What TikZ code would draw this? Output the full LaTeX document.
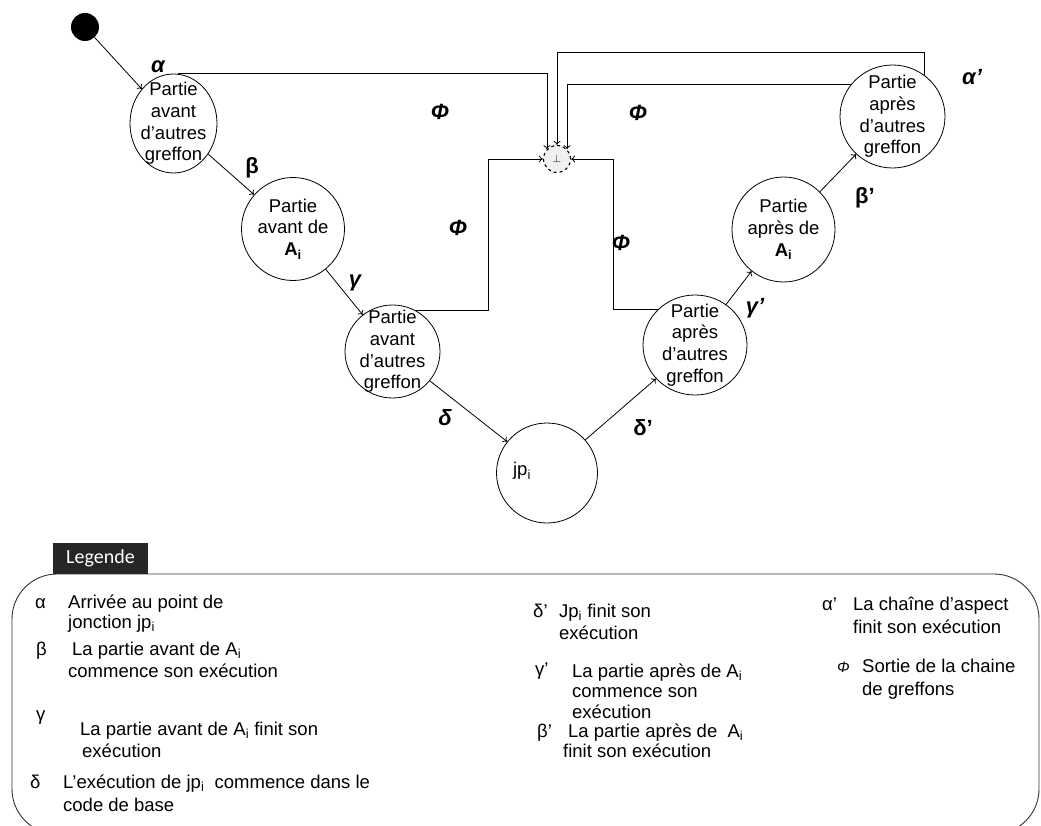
\documentclass[tikz,border=0pt]{standalone}
\usepackage{fontspec}
\setmainfont{Liberation Sans}
\newfontfamily\carlito{Carlito}
\usetikzlibrary{shapes.geometric,arrows.meta}
\begin{document}
\begin{tikzpicture}[x=1pt,y=-1pt,
  st/.style={ellipse, draw, line width=0.8pt, inner sep=0pt, fill=white},
  ntext/.style={align=center, font=\fontsize{18.5}{21.7}\selectfont, inner sep=0pt},
  glab/.style={font=\fontsize{22}{26}\selectfont\bfseries\itshape, inner sep=0pt},
  glabu/.style={font=\fontsize{22}{26}\selectfont\bfseries, inner sep=0pt},
  conn/.style={-{To[length=4pt,width=7pt]}, line width=0.8pt},
  leg/.style={anchor=base west, font=\fontsize{18.5}{22}\selectfont, inner sep=0pt}]
\useasboundingbox (0,0) rectangle (1041,826);

% nodes
\node[circle, fill=black, minimum size=28pt, inner sep=0pt] (s) at (85,27) {};
\node[st, minimum width=87pt, minimum height=99pt] (A) at (173.5,123.5) {};
\node[ntext] (At) at (A) {Partie\\avant\\d’autres\\greffon};
\node[st, minimum width=103pt, minimum height=103pt] (B) at (293,229) {};
\node[ntext] (Bt) at (B) {Partie\\avant de\\\textbf{A\textsubscript{i}}};
\node[st, minimum width=95pt, minimum height=93pt] (C) at (392.5,351.5) {};
\node[ntext] (Ct) at (C) {Partie\\avant\\d’autres\\greffon};
\node[st, minimum width=101pt, minimum height=100pt] (J) at (547,473) {};
\node[ntext] (Jt) at (522,471) {jp\textsubscript{i}};
\node[st, minimum width=104pt, minimum height=100pt] (D) at (695,345) {};
\node[ntext] (Dt) at (D) {Partie\\après\\d’autres\\greffon};
\node[st, minimum width=103pt, minimum height=105pt] (E) at (783.5,229.5) {};
\node[ntext] (Et) at (E) {Partie\\après de\\\textbf{A\textsubscript{i}}};
\node[st, minimum width=105pt, minimum height=103pt] (F) at (892.5,116.5) {};
\node[ntext] (Ft) at (F) {Partie\\après\\d’autres\\greffon};
\node[circle, draw, dashed, line width=1.1pt, fill=black!6, minimum size=27pt, inner sep=0pt,
  font=\fontsize{11}{12}\selectfont] (bot) at (557,159) {$\perp$};

\coordinate (topy) at (0,52);
\coordinate (lx) at (488,0);
\coordinate (rx) at (613,0);

% chain connectors
\draw[conn] (s) -- (A);
\draw[conn] (A) -- (B);
\draw[conn] (B) -- (C);
\draw[conn] (C) -- (J);
\draw[conn] (J) -- (D);
\draw[conn] (D) -- (E);
\draw[conn] (E) -- (F);

% exits to bottom
\draw[conn] (A.85) -| (bot.136);
\draw[conn] (F.52) -- (F.52 |- topy) -| (bot.north);
\draw[conn] (F.143) -| (bot.44);
\draw[conn] (C.60) -- (C.60 -| lx) |- (bot.west);
\draw[conn] (D.136) -- (D.136 -| rx) |- (bot.east);

% labels
\node[glab] (la) at (158,67) {α};
\node[glabu] (lb) at (252,168) {β};
\node[glab] (lg) at (355,283) {γ};
\node[glab] (ld) at (445,418) {δ};
\node[glabu] (ldp) at (643,428) {δ'};
\node[glab] (lgp) at (755,308) {γ’};
\node[glabu] (lbp) at (865,198) {β'};
\node[glab] (lap) at (972,77) {α’};
\node[glab] (p1) at (440,112) {Φ};
\node[glab] (p2) at (638,113) {Φ};
\node[glab] (p3) at (458,228) {Φ};
\node[glab] (p4) at (621,243) {Φ};

% legend
\draw[line width=0.9pt, black!80, rounded corners=45pt] (12,574) rectangle (1039,834);
\node[fill=black!85, text=white, minimum width=95pt, minimum height=31pt, inner sep=0pt,
  font=\carlito\fontsize{20}{24}\selectfont] (lgd) at (100.5,558.5) {Legende};

\node[leg] (k1) at (35,608) {α};
\node[leg] (k1a) at (68,608) {Arrivée au point de};
\node[leg] (k1b) at (68,628) {jonction jp\textsubscript{i}};
\node[leg] (k2) at (36,655) {β};
\node[leg] (k2a) at (72,655) {La partie avant de A\textsubscript{i}};
\node[leg] (k2b) at (68,677) {commence son exécution};
\node[leg] (k3) at (36,720) {γ};
\node[leg] (k3a) at (80,735) {La partie avant de A\textsubscript{i} finit son};
\node[leg] (k3b) at (82,757) {exécution};
\node[leg] (k4) at (30,788) {δ};
\node[leg] (k4a) at (63,788) {L’exécution de jp\textsubscript{i}\ \ commence dans le};
\node[leg] (k4b) at (63,811) {code de base};

\node[leg] (k5) at (533,617) {δ'};
\node[leg] (k5a) at (559,617) {Jp\textsubscript{i} finit son};
\node[leg] (k5b) at (559,639) {exécution};
\node[leg] (k6) at (535,675) {γ’};
\node[leg] (k6a) at (572,677) {La partie après de A\textsubscript{i}};
\node[leg] (k6b) at (572,697) {commence son};
\node[leg] (k6c) at (572,718) {exécution};
\node[leg] (k7) at (537,737) {β’};
\node[leg] (k7a) at (568,737) {La partie après de\ \ A\textsubscript{i}};
\node[leg] (k7b) at (563,757) {finit son exécution};

\node[leg] (k8) at (822,610) {α'};
\node[leg] (k8a) at (853,610) {La chaîne d’aspect};
\node[leg] (k8b) at (853,633) {finit son exécution};
\node[leg, font=\fontsize{15}{18}\selectfont\itshape] (k9) at (837,672) {Φ};
\node[leg] (k9a) at (862,672) {Sortie de la chaine};
\node[leg] (k9b) at (862,695) {de greffons};
\end{tikzpicture}
\end{document}
